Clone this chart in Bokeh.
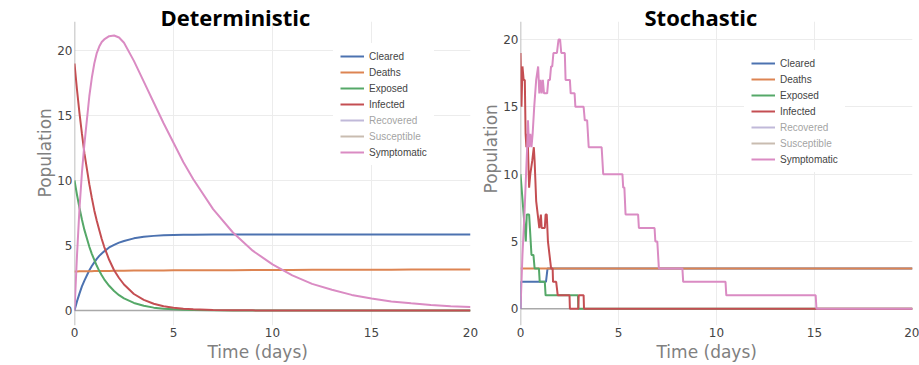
from bokeh.plotting import figure
from bokeh.models import Legend, LegendItem, Span, FixedTicker, Title
from bokeh.layouts import row
from bokeh.embed import file_html
from bokeh.resources import INLINE

# ---------------- data ----------------
series_names = ["Cleared", "Deaths", "Exposed", "Infected", "Recovered", "Susceptible", "Symptomatic"]
series_colors = ["#4C72B0", "#DD8452", "#55A868", "#C44E52", "#8172B3", "#937860", "#DA8BC3"]
hidden_series = ["Recovered", "Susceptible"]   # shown only in the legend (toggled off)

# Deterministic model
det_t = [0, 0.125, 0.25, 0.375, 0.5, 0.75, 0.875, 1, 1.125, 1.25, 1.375, 1.5, 1.75, 2, 2.25, 2.5, 3, 3.5, 4, 4.5, 5,
         5.5, 6, 7, 8, 9, 10, 11, 12, 13, 14, 15, 16, 17, 18, 19, 20]
det_cleared = [0, 0.7, 1.3, 1.85, 2.3, 3.1, 3.42, 3.7, 3.97, 4.2, 4.39, 4.55, 4.85, 5.05, 5.22, 5.35, 5.55, 5.67, 5.74, 5.78, 5.8,
               5.82, 5.83, 5.84, 5.85, 5.85, 5.85, 5.85, 5.85, 5.85, 5.85, 5.85, 5.85, 5.85, 5.85, 5.85, 5.85]
det_deaths = [3.0, 3.0, 3.01, 3.01, 3.01, 3.02, 3.02, 3.03, 3.03, 3.03, 3.03, 3.04, 3.04, 3.05, 3.05, 3.06, 3.07, 3.07, 3.08, 3.08, 3.09,
              3.09, 3.09, 3.10, 3.10, 3.11, 3.12, 3.12, 3.13, 3.13, 3.14, 3.14, 3.14, 3.15, 3.15, 3.15, 3.15]
det_exposed = [10, 8.9, 7.9, 7.0, 6.2, 4.9, 4.36, 3.9, 3.44, 3.05, 2.71, 2.4, 1.9, 1.5, 1.18, 0.93, 0.58, 0.36, 0.22, 0.14, 0.09,
               0.05, 0.03, 0.01, 0, 0, 0, 0, 0, 0, 0, 0, 0, 0, 0, 0, 0]
det_infected = [19, 17.0, 15.2, 13.6, 12.1, 9.7, 8.66, 7.7, 6.9, 6.2, 5.5, 4.9, 3.9, 3.1, 2.5, 2.0, 1.27, 0.82, 0.52, 0.33, 0.21,
                0.14, 0.09, 0.04, 0.02, 0.01, 0, 0, 0, 0, 0, 0, 0, 0, 0, 0, 0]
det_symptomatic = [0, 4.2, 7.8, 10.6, 12.8, 16.5, 17.9, 19.0, 19.8, 20.3, 20.65, 20.85, 21.1, 21.15, 21.0, 20.6, 19.2, 17.6, 16.0, 14.4, 12.9,
                   11.4, 10.1, 7.8, 6.0, 4.6, 3.55, 2.7, 2.05, 1.6, 1.2, 0.92, 0.7, 0.55, 0.42, 0.33, 0.26]

# Stochastic model (corner points of the simulated paths)
sto_cleared_t = [0, 0.02, 1.3, 1.38, 20]
sto_cleared_v = [0, 2, 2, 3, 3]
sto_deaths_t = [0, 20]
sto_deaths_v = [3, 3]
sto_exposed_t = [0, 0.27, 0.32, 0.44, 0.48, 0.52, 0.56, 0.66, 0.72, 0.94, 0.98, 1.24, 1.28, 2.93, 2.95, 20]
sto_exposed_v = [10, 5, 7, 7, 6, 5, 4, 4, 3, 3, 2, 2, 1, 1, 0, 0]
sto_infected_t = [0, 0.05, 0.1, 0.16, 0.22, 0.26, 0.3, 0.34, 0.38, 0.44, 0.5, 0.6, 0.68, 0.72, 0.8, 0.88, 0.96,
                  1.04, 1.08, 1.24, 1.28, 1.34, 1.4, 1.48, 1.56, 1.64, 1.66, 1.82, 1.9, 2.5, 2.52, 2.95, 2.97,
                  3.22, 3.24, 20]
sto_infected_v = [19, 15, 18, 17, 17, 13, 12, 13, 12, 9, 10, 11, 12, 11, 8, 7, 6,
                  7, 6, 6, 7, 7, 5, 4, 3, 3, 2, 2, 1, 1, 0, 0, 1,
                  1, 0, 0]
sto_symptomatic_t = [0, 0.1, 0.2, 0.34, 0.38, 0.44, 0.5, 0.56, 0.62, 0.7, 0.8, 0.9, 0.96, 1.02, 1.08, 1.14, 1.2,
                     1.36, 1.42, 1.5, 1.56, 1.62, 1.68, 1.86, 1.94, 2.02, 2.08, 2.26, 2.3, 2.52, 2.56, 2.76, 2.8,
                     3.22, 3.28, 3.4, 3.48, 4.14, 4.22, 5.2, 5.24, 5.3, 5.36, 6.0, 6.04, 6.84, 6.88, 6.98, 7.02,
                     7.06, 8.26, 8.3, 10.46, 10.5, 15.06, 15.1, 20]
sto_symptomatic_v = [0, 4, 7, 12, 14, 12, 13, 12, 13, 15, 17, 18, 16, 17, 16, 17, 16,
                     16, 17, 17, 18, 18, 19, 19, 20, 20, 19, 19, 17, 17, 16, 16, 15,
                     15, 14, 14, 12, 12, 10, 10, 9, 9, 7, 7, 6, 6, 5, 5, 4,
                     3, 3, 2, 2, 1, 1, 0, 0]

# hidden (legend-only) traces: no values visible in the picture
hidden_t = [float("nan")]
hidden_v = [float("nan")]

x_ticks = [0, 5, 10, 15, 20]
y_ticks = [0, 5, 10, 15, 20]

det_data = {
    "Cleared": (det_t, det_cleared),
    "Deaths": (det_t, det_deaths),
    "Exposed": (det_t, det_exposed),
    "Infected": (det_t, det_infected),
    "Recovered": (hidden_t, hidden_v),
    "Susceptible": (hidden_t, hidden_v),
    "Symptomatic": (det_t, det_symptomatic),
}
sto_data = {
    "Cleared": (sto_cleared_t, sto_cleared_v),
    "Deaths": (sto_deaths_t, sto_deaths_v),
    "Exposed": (sto_exposed_t, sto_exposed_v),
    "Infected": (sto_infected_t, sto_infected_v),
    "Recovered": (hidden_t, hidden_v),
    "Susceptible": (hidden_t, hidden_v),
    "Symptomatic": (sto_symptomatic_t, sto_symptomatic_v),
}

TICK_FONT = "DejaVu Sans"
AXIS_TITLE_COLOR = "#808080"
H = 365


def make_panel(title, data, width, mbl, mbr, y_range, title_off, xlab_off, ylab_off, legend_xy):
    p = figure(width=width, height=H, x_range=(0, 20), y_range=y_range,
               output_backend="svg", toolbar_location=None,
               min_border_left=mbl, min_border_right=mbr,
               min_border_top=21, min_border_bottom=40)
    p.outline_line_color = None
    p.background_fill_color = "white"
    p.border_fill_color = "white"

    # chart title (overlapping the top of the frame a little, like the original)
    p.title.text = title
    p.title.text_font = "Open Sans"
    p.title.text_font_style = "bold"
    p.title.text_font_size = "22px"
    p.title.text_color = "black"
    p.title.align = "left"
    p.title.offset = title_off
    p.title.standoff = -20
    p.title.vertical_align = "bottom"

    for ax, ticks in ((p.xaxis, x_ticks), (p.yaxis, y_ticks)):
        ax.ticker = FixedTicker(ticks=ticks)
        ax.axis_line_color = None
        ax.major_tick_line_color = None
        ax.minor_tick_line_color = None
        ax.major_tick_out = 0
        ax.major_tick_in = 0
        ax.major_label_text_font = TICK_FONT
        ax.major_label_text_font_size = "12px"
        ax.major_label_text_color = "#444444"
        ax.major_label_standoff = 2

    p.xgrid.ticker = FixedTicker(ticks=[t for t in x_ticks if t != 0])
    p.ygrid.ticker = FixedTicker(ticks=[t for t in y_ticks if t != 0])
    p.xgrid.grid_line_color = "#ececec"
    p.ygrid.grid_line_color = "#ececec"

    p.add_layout(Span(location=0, dimension="width", line_color="#a9a9a9",
                      line_width=1.5, level="underlay"))
    p.add_layout(Span(location=0, dimension="height", line_color="#a9a9a9",
                      line_width=1.5, level="underlay"))

    items = []
    for name, color in zip(series_names, series_colors):
        xs, ys = data[name]
        r = p.line(xs, ys, line_color=color, line_width=2)
        if name in hidden_series:
            r.visible = False
        items.append(LegendItem(label=name, renderers=[r]))

    legend = Legend(items=items, location=legend_xy, click_policy="hide",
                    label_text_font="Liberation Sans", label_text_font_size="10px",
                    label_text_color="#444444", glyph_width=24, glyph_height=12,
                    label_height=12, label_standoff=5, spacing=4, padding=7, margin=0,
                    border_line_alpha=0, background_fill_color="white",
                    background_fill_alpha=1.0, inactive_fill_color="white",
                    inactive_fill_alpha=0.5)
    p.add_layout(legend)

    # axis titles as side-panel titles (offset from the frame's start)
    p.add_layout(Title(text="Time (days)", align="left", offset=xlab_off, standoff=0,
                       text_font="DejaVu Sans", text_font_size="17px",
                       text_font_style="normal", text_color=AXIS_TITLE_COLOR), "below")
    p.add_layout(Title(text="Population", align="left", offset=ylab_off, standoff=0,
                       text_font="DejaVu Sans", text_font_size="17px",
                       text_font_style="normal", text_color=AXIS_TITLE_COLOR), "left")
    return p


p1 = make_panel("Deterministic", det_data, width=478, mbl=74, mbr=8,
                y_range=(-1.154, 22.23), title_off=86, xlab_off=133, ylab_off=128,
                legend_xy=(259, 160))
p2 = make_panel("Stochastic", sto_data, width=441, mbl=41, mbr=7,
                y_range=(-1.24, 21.337), title_off=124, xlab_off=136, ylab_off=132,
                legend_xy=(224, 153))

layout = row(p1, p2)
open("out.html", "w").write(file_html(layout, INLINE))
